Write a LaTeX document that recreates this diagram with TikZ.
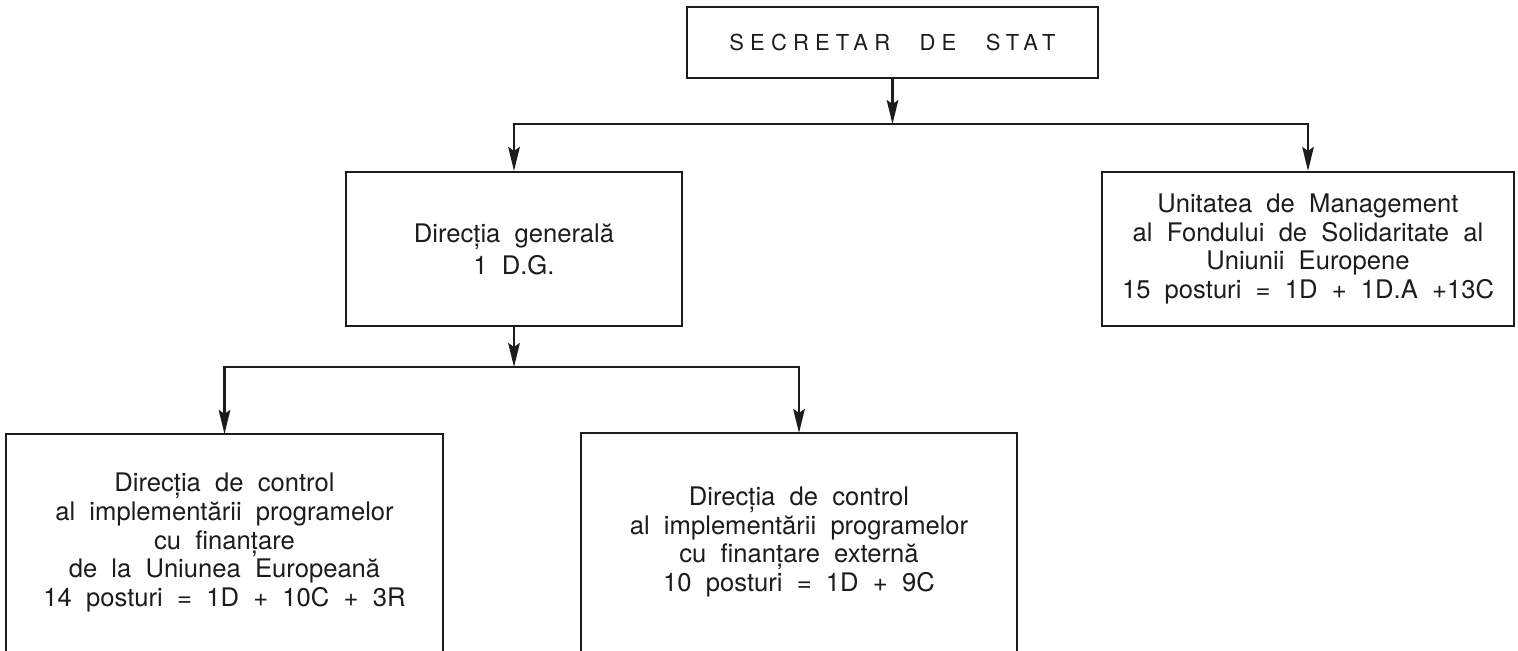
\documentclass[tikz,border=0pt]{standalone}
\usepackage{fontspec}
\setmainfont{TeX Gyre Heros}[WordSpace=2]
\newfontfamily\titlefont{TeX Gyre Heros}[LetterSpace=28,WordSpace=2.4]
\usetikzlibrary{arrows.meta}
\definecolor{ink}{RGB}{30,27,28}
\tikzset{
  box/.style={draw=ink, line width=1.1pt, inner sep=0pt, align=center, text=ink,
    font=\fontsize{12.8}{14.4}\selectfont},
  openbox/.style={box, draw=none},
  arr/.style={draw=ink, line width=1.1pt, -{Stealth[length=12pt,width=5.8pt,inset=2pt]}},
  plain/.style={draw=ink, line width=1.1pt}
}
\begin{document}
\begin{tikzpicture}[x=0.5pt,y=-0.5pt]
\useasboundingbox (0,0) rectangle (1518,650);
\node[box, minimum width=205.5pt, minimum height=35.5pt, font=\titlefont\fontsize{11}{13}\selectfont] (top) at (892.5,42.5) {SECRETAR DE STAT};
\node[box, minimum width=168pt, minimum height=77pt, font=\fontsize{12.8}{16}\selectfont] (dg) at (514,249) {Direcția generală\\1 D.G.};
\node[box, minimum width=206pt, minimum height=77pt] (um) at (1308,249) {Unitatea de Management\\al Fondului de Solidaritate al\\Uniunii Europene\\15 posturi = 1D + 1D.A +13C};
\node[openbox, minimum width=217.5pt, minimum height=107.5pt] (lb) at (224.5,542.5) {Direcția de control\\al implementării programelor\\cu finanțare\\de la Uniunea Europeană\\14 posturi = 1D + 10C + 3R};
\node[openbox, minimum width=217pt, minimum height=108pt] (mb) at (799,542) {Direcția de control\\al implementării programelor\\cu finanțare externă\\10 posturi = 1D + 9C};
\draw[plain] (lb.south west) -- (lb.north west) -- (lb.north east) -- (lb.south east);
\draw[plain] (mb.south west) -- (mb.north west) -- (mb.north east) -- (mb.south east);
\coordinate (j1) at (892.5,124);
\coordinate (j2) at (514,367);
\draw[arr] (top.south) -- (j1);
\draw[arr] (j1) -| (dg.north);
\draw[arr] (j1) -| (um.north);
\draw[arr] (dg.south) -- (j2);
\draw[arr] (j2) -| (lb.north);
\draw[arr] (j2) -| (mb.north);
\end{tikzpicture}
\end{document}
